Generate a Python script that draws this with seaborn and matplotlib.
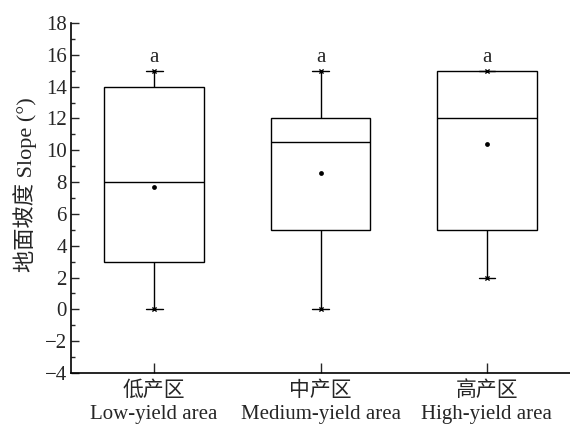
import pandas as pd
import matplotlib
matplotlib.use("Agg")
import matplotlib.pyplot as plt
from matplotlib.ticker import MultipleLocator
import seaborn as sns

# five-number summaries (min, q1, median, q3, max)
areas = ["低产区\nLow-yield area", "中产区\nMedium-yield area", "高产区\nHigh-yield area"]
low_vals = [0, 3, 8, 14, 15]
medium_vals = [0, 5, 10.5, 12, 15]
high_vals = [2, 5, 12, 15, 15]
means = [7.7, 8.6, 10.4]
letters = ["a", "a", "a"]
letter_y = [15.55, 15.55, 15.55]

sns.set_theme(style="ticks")
plt.rcParams["font.family"] = ["Liberation Serif", "Noto Sans CJK SC"]
plt.rcParams["axes.unicode_minus"] = True

rows = []
for area, vals in zip(areas, [low_vals, medium_vals, high_vals]):
    for v in vals:
        rows.append({"area": area, "slope": v})
df = pd.DataFrame(rows)

fig = plt.figure(figsize=(5.7, 4.26), dpi=100)
ax = fig.add_axes([0.1246, 0.1244, 0.8754, 0.8216])

sns.boxplot(data=df, x="area", y="slope", order=areas, whis=(0, 100),
            width=0.6, color="white", linecolor="black", linewidth=1.0,
            capwidths=0.1, showfliers=False, ax=ax)

# min / max markers at whisker ends
ends = df.groupby("area", sort=False)["slope"].agg(["min", "max"]).reindex(areas)
for col in ["min", "max"]:
    ax.scatter(range(len(areas)), ends[col].values, marker="x", s=9,
               color="black", linewidths=1.0, zorder=5)

# mean points
sns.scatterplot(x=list(range(len(areas))), y=means, color="black", s=12,
                edgecolor="black", linewidth=0, zorder=6, ax=ax, legend=False)

for i, (t, yv) in enumerate(zip(letters, letter_y)):
    ax.text(i, yv, t, ha="center", va="baseline", fontsize=15)

ax.set_xlim(-0.5, 2.5)
ax.set_ylim(-4, 18)
ax.yaxis.set_major_locator(MultipleLocator(2))
ax.yaxis.set_minor_locator(MultipleLocator(1))
ax.set_xlabel("")
ax.set_ylabel("地面坡度 Slope (°)", fontsize=16)
ax.yaxis.set_label_coords(-0.068, 0.537)

ax.tick_params(axis="y", which="major", direction="in", length=6, width=1,
               labelsize=15, pad=3)
ax.tick_params(axis="y", which="minor", direction="in", length=3, width=1)
ax.tick_params(axis="x", which="major", direction="in", length=7, width=1,
               labelsize=15, pad=6)
for lbl in ax.get_xticklabels():
    lbl.set_linespacing(1.28)

sns.despine(ax=ax, top=True, right=True)
for s in ["left", "bottom"]:
    ax.spines[s].set_linewidth(1.2)
    ax.spines[s].set_color("black")

fig.savefig("out.png", dpi=100)
